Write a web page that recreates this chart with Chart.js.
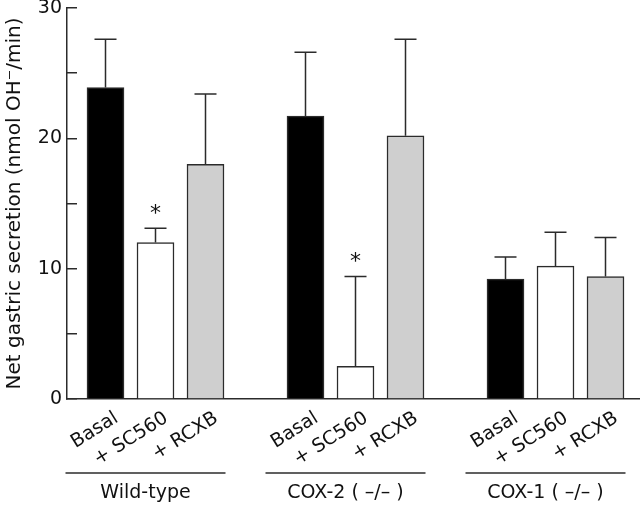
<!DOCTYPE html>
<html>
<head>
<meta charset="utf-8">
<script src="https://cdn.jsdelivr.net/npm/chart.js@4/dist/chart.umd.min.js"></script>
<style>
  html, body { margin: 0; padding: 0; background: #fff; }
  #wrap { width: 640px; height: 505px; }
</style>
</head>
<body>
<div id="wrap"><canvas id="secretionChart"></canvas></div>
<script>
// groups of mice and treatments
var groups = ['Wild-type', 'COX-2 ( \u2013/\u2013 )', 'COX-1 ( \u2013/\u2013 )']
var treatments = ['Basal', '+ SC560', '+ RCXB']
var barColors = ['#000000', '#ffffff', '#cfcfcf']

// values, in order group by group
var means = [23.9, 12.0, 18.0, 21.7, 2.5, 20.2, 9.2, 10.2, 9.4]
var sems = [3.7, 1.1, 5.4, 4.9, 6.9, 7.4, 1.7, 2.6, 3.0]
var signif = [false, true, false, false, true, false, false, false, false]

var yTicks = [0, 10, 20, 30]

var FONT = '"DejaVu Sans", sans-serif'
var INK = '#2b2b2b'

/* x position of every bar: one empty slot between groups */
var xPos = []
var xLabels = {}
var points = []
for (var g = 0; g < groups.length; g++) {
  for (var t = 0; t < treatments.length; t++) {
    var i = g * treatments.length + t
    var pos = g * (treatments.length + 1) + t
    xPos.push(pos)
    xLabels[pos] = treatments[t]
    points.push({ x: pos, y: means[i] })
  }
}

/* error bars, asterisks and group labels */
const extrasPlugin = {
  id: 'extras',
  afterDatasetsDraw(chart) {
    const ctx = chart.ctx
    const meta = chart.getDatasetMeta(0)
    const y = chart.scales.y
    ctx.save()
    ctx.strokeStyle = INK
    ctx.lineWidth = 1.5
    meta.data.forEach((bar, i) => {
      const top = y.getPixelForValue(means[i])
      const errTop = y.getPixelForValue(means[i] + sems[i])
      ctx.beginPath()
      ctx.moveTo(bar.x, top)
      ctx.lineTo(bar.x, errTop)
      ctx.moveTo(bar.x - 11, errTop)
      ctx.lineTo(bar.x + 11, errTop)
      ctx.stroke()
      if (signif[i]) {
        ctx.fillStyle = '#111'
        ctx.font = '22px ' + FONT
        ctx.textAlign = 'center'
        ctx.textBaseline = 'middle'
        ctx.fillText('*', bar.x, errTop - 14)
      }
    })
    ctx.restore()
  },
  afterDraw(chart) {
    const ctx = chart.ctx
    const meta = chart.getDatasetMeta(0)
    ctx.save()
    ctx.strokeStyle = INK
    ctx.lineWidth = 1.5
    ctx.fillStyle = '#111'
    ctx.font = '19px ' + FONT
    ctx.textAlign = 'center'
    ctx.textBaseline = 'middle'
    groups.forEach((name, g) => {
      const first = meta.data[g * treatments.length]
      const last = meta.data[g * treatments.length + treatments.length - 1]
      const x1 = first.x - 40
      const x2 = last.x + 20
      ctx.beginPath()
      ctx.moveTo(x1, 473)
      ctx.lineTo(x2, 473)
      ctx.stroke()
      ctx.fillText(name, (x1 + x2) / 2, 493)
    })
    ctx.restore()
  }
}

const config = {
  type: 'bar',
  data: {
    datasets: [{
      data: points,
      backgroundColor: points.map((p, i) => barColors[i % treatments.length]),
      borderColor: INK,
      borderWidth: 1.5,
      borderSkipped: 'bottom',
      barThickness: 37
    }]
  },
  options: {
    responsive: false,
    animation: false,
    devicePixelRatio: 1,
    layout: { padding: { top: 8, right: 0, bottom: 0, left: 0 } },
    plugins: {
      legend: { display: false },
      tooltip: { enabled: false }
    },
    scales: {
      x: {
        type: 'linear',
        offset: false,
        min: -0.77,
        max: 10.69,
        grid: { display: false },
        border: { display: true, color: INK, width: 1.5 },
        afterBuildTicks: (scale) => {
          scale.ticks = xPos.map(v => ({ value: v }))
        },
        afterFit: (scale) => {
          scale.height = 106
          scale.paddingLeft = 0
          scale.paddingRight = 0
        },
        ticks: {
          autoSkip: false,
          minRotation: 32,
          maxRotation: 32,
          padding: 0,
          labelOffset: 11,
          color: '#111',
          font: { family: FONT, size: 19 },
          callback: (v) => xLabels[v]
        }
      },
      y: {
        min: 0,
        max: 30,
        afterBuildTicks: (scale) => {
          scale.ticks = [0, 5, 10, 15, 20, 25, 30].map(v => ({ value: v }))
        },
        afterFit: (scale) => {
          scale.width = 67
          scale.paddingTop = 0
          scale.paddingBottom = 0
        },
        grid: {
          display: true,
          drawOnChartArea: false,
          drawTicks: true,
          tickLength: -10,
          color: INK,
          lineWidth: 1.5
        },
        border: { display: true, color: INK, width: 1.5 },
        ticks: {
          padding: 15,
          color: '#111',
          font: { family: FONT, size: 19 },
          callback: (v) => yTicks.indexOf(v) >= 0 ? String(v) : ''
        },
        title: {
          display: true,
          text: 'Net gastric secretion (nmol OH\u207B/min)',
          color: '#111',
          font: { family: FONT, size: 20 },
          padding: { top: 3, bottom: 0 }
        }
      }
    }
  },
  plugins: [extrasPlugin]
}

const canvas = document.getElementById('secretionChart')
canvas.width = 640
canvas.height = 505
const myChart = new Chart(canvas, config)
</script>
</body>
</html>
